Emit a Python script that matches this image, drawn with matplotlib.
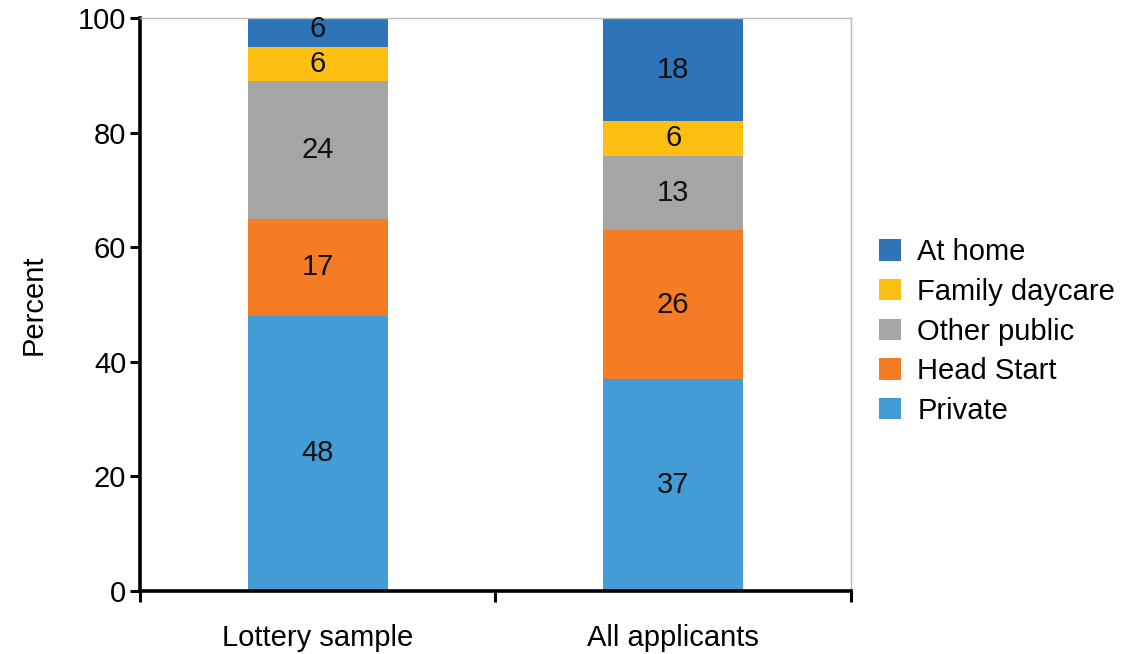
import numpy as np
import matplotlib
matplotlib.use("Agg")
import matplotlib.pyplot as plt
from matplotlib.patches import Patch

plt.rcParams['font.family'] = ['Liberation Sans', 'DejaVu Sans']

groups = ["Lottery sample", "All applicants"]
settings = ["Private", "Head Start", "Other public", "Family daycare", "At home"]
private = [48, 37]
head_start = [17, 26]
other_public = [24, 13]
family_daycare = [6, 6]
at_home = [6, 18]
colors = ["#449CD6", "#F47C24", "#A5A5A5", "#FDBF12", "#2E74B8"]

series = [private, head_start, other_public, family_daycare, at_home]
FS = 21

fig = plt.figure(figsize=(11.23, 6.54), dpi=100)
ax = fig.add_axes([0.1247, 0.0963, 0.633, 0.8762])

x = np.arange(len(groups))
bottom = np.zeros(len(groups))
for vals, col in zip(series, colors):
    vals = np.array(vals, dtype=float)
    ax.bar(x, vals, width=0.395, bottom=bottom, color=col, edgecolor="none", zorder=2)
    for xi, b, v in zip(x, bottom, vals):
        ax.text(xi, b + v / 2, f"{v:g}", ha="center", va="center", fontsize=FS, color="#111111", zorder=3)
    bottom += vals

ax.set_xlim(-0.5, 1.5)
ax.set_ylim(0, 100)
ax.set_yticks(np.arange(0, 101, 20))
ax.tick_params(axis="y", labelsize=FS, length=7, width=2.2, direction="out", pad=3)

# category boundaries carry the tick marks, names sit on minor ticks
ax.set_xticks([-0.5, 0.5, 1.5])
ax.set_xticklabels([])
ax.set_xticks(x, minor=True)
ax.set_xticklabels(groups, minor=True, fontsize=FS)
ax.tick_params(axis="x", which="major", length=8, width=2.2, direction="out")
ax.tick_params(axis="x", which="minor", length=0, pad=24)

for side in ["left", "bottom"]:
    ax.spines[side].set_linewidth(2.6)
    ax.spines[side].set_color("black")
for side in ["top", "right"]:
    ax.spines[side].set_linewidth(1.0)
    ax.spines[side].set_color("#BBBBBB")

ax.set_ylabel("Percent", fontsize=FS, labelpad=22)

handles = [Patch(facecolor=c, edgecolor="none", label=s) for s, c in zip(settings, colors)]
leg = fig.legend(handles[::-1], [h.get_label() for h in handles[::-1]],
                 loc="center left", bbox_to_anchor=(0.783, 0.493), frameon=False,
                 fontsize=FS, handlelength=0.75, handleheight=0.75, handletextpad=0.55,
                 labelspacing=0.4, borderpad=0.0, borderaxespad=0.0)

fig.savefig("out.png", dpi=100)
